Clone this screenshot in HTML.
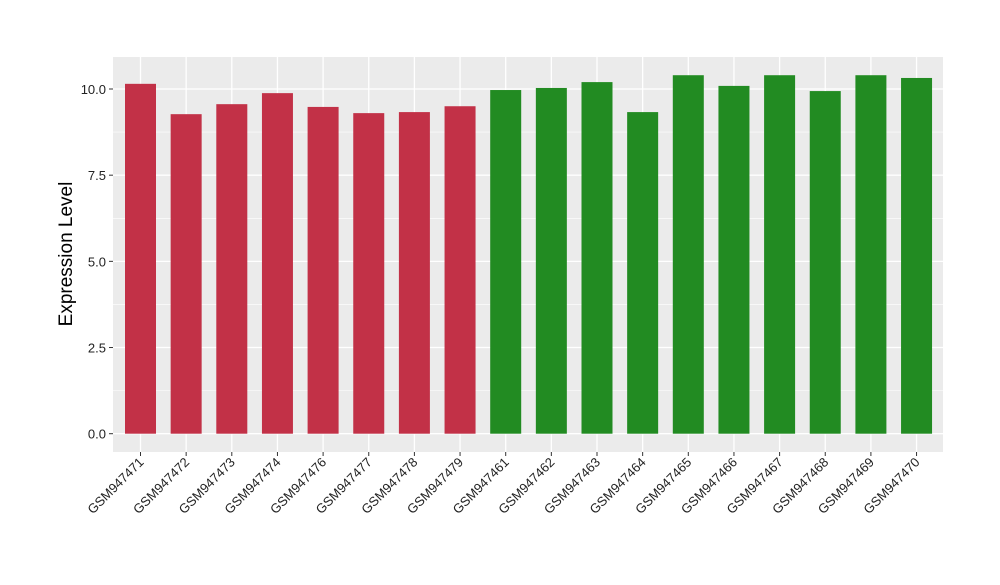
<!DOCTYPE html>
<html><head><meta charset="utf-8"><style>
body{margin:0;background:#fff;}
text{font-family:"Liberation Sans",Arial,sans-serif;}
</style></head><body>
<svg id="chart" width="1000" height="580" xmlns="http://www.w3.org/2000/svg">
<rect x="113" y="57" width="830" height="395" fill="#ebebeb"/>
<g id="grid"></g><g id="bars"></g><g id="axes"></g>
<text transform="translate(72,254) rotate(-90)" text-anchor="middle" font-size="19" fill="#000">Expression Level</text>
</svg>
<script>
const categories=["GSM947471","GSM947472","GSM947473","GSM947474","GSM947476","GSM947477","GSM947478","GSM947479","GSM947461","GSM947462","GSM947463","GSM947464","GSM947465","GSM947466","GSM947467","GSM947468","GSM947469","GSM947470"];
const values=[10.15,9.27,9.56,9.88,9.48,9.30,9.33,9.50,9.97,10.03,10.20,9.33,10.40,10.09,10.40,9.94,10.40,10.32];
const groups=["a","a","a","a","a","a","a","a","b","b","b","b","b","b","b","b","b","b"];
const yTicks=[0,2.5,5,7.5,10];
const yTickLabels=["0.0","2.5","5.0","7.5","10.0"];
const colors={a:"#c23147",b:"#228b22"};
const NS="http://www.w3.org/2000/svg";
const y=v=>433.7-v*34.47;
const x=i=>140.5+i*45.65;
function mk(t,a,p){const e=document.createElementNS(NS,t);for(const k in a)e.setAttribute(k,a[k]);p.appendChild(e);return e;}
const grid=document.getElementById('grid'),bars=document.getElementById('bars'),axes=document.getElementById('axes');
for(let k=0;k<yTicks.length-1;k++){const m=mk('line',{x1:113,x2:943,y1:y((yTicks[k]+yTicks[k+1])/2),y2:y((yTicks[k]+yTicks[k+1])/2),stroke:'#fff','stroke-width':0.6},grid);

}
yTicks.forEach((t,k)=>{const g=mk('line',{x1:113,x2:943,y1:y(t),y2:y(t),stroke:'#fff','stroke-width':1.3},grid);


mk('line',{x1:109,x2:113,y1:y(t),y2:y(t),stroke:'#333'},axes);
const l=mk('text',{x:106,y:y(t)+5,'text-anchor':'end','font-size':13,fill:'#222'},axes);l.textContent=yTickLabels[k];

});
categories.forEach((c,i)=>{const g=mk('line',{x1:x(i),x2:x(i),y1:57,y2:452,stroke:'#fff','stroke-width':1.3},grid);


const b=mk('rect',{x:x(i)-15.5,y:y(values[i]),width:31,height:y(0)-y(values[i]),fill:colors[groups[i]]},bars);


mk('line',{x1:x(i),x2:x(i),y1:452,y2:456,stroke:'#333'},axes);
const l=mk('text',{transform:`translate(${x(i)+4},${463}) rotate(-45)`,'text-anchor':'end','font-size':13,fill:'#222'},axes);l.textContent=c;

});
</script>
</body></html>
